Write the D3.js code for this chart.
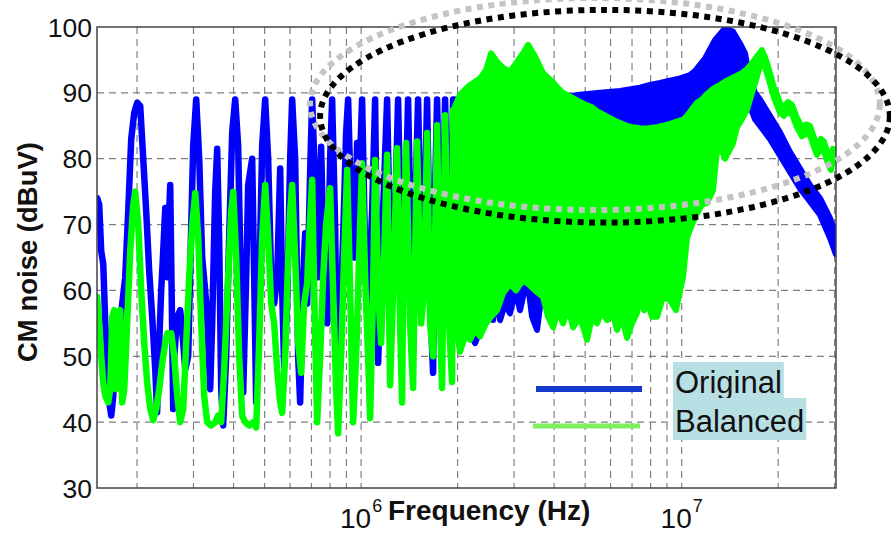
<!DOCTYPE html>
<meta charset="utf-8">
<head>
<script src="https://d3js.org/d3.v7.min.js"></script>
<style>
  body { margin: 0; background: #fff; }
  text { font-family: "Liberation Sans", Arial, sans-serif; }
</style>
</head>
<body>
<div id="container"></div>
<script>

// frequency in MHz, level in dBuV
var blueTrace = [
  [0.1502,74],[0.1524,73],[0.1546,66],[0.1569,64],[0.1592,55],[0.1614,50],[0.1638,43],[0.1662,41],
  [0.1686,44],[0.1722,50],[0.1760,54],[0.1798,58],[0.1837,62],[0.1877,72],[0.1918,83],[0.1960,87],
  [0.2002,88.5],[0.2046,88],[0.2091,80],[0.2136,72],[0.2182,63],[0.2230,56],[0.2279,48],[0.2310,41.5],
  [0.2345,52],[0.2379,60],[0.2414,66],[0.2449,72.5],[0.2484,62],[0.2520,72],[0.2538,76],[0.2593,42],
  [0.2612,50],[0.2669,56],[0.2727,57],[0.2787,52],[0.2827,48],[0.2888,50],[0.2952,70],[0.2994,82],
  [0.3059,89],[0.3126,80],[0.3193,65],[0.3263,60],[0.3310,56],[0.3382,45],[0.3431,55],[0.3506,75],
  [0.3556,81.5],[0.3607,68],[0.3660,45],[0.3713,39.5],[0.3794,50],[0.3876,68],[0.3961,84],[0.4047,89],
  [0.4135,82],[0.4226,58],[0.4287,44.5],[0.4380,62],[0.4443,76],[0.4573,80],[0.4639,62],[0.4706,43],
  [0.4808,60],[0.4913,82],[0.5020,89],[0.5129,80],[0.5241,62],[0.5355,58],[0.5471,62],[0.5591,78.5],
  [0.5672,60],[0.5753,48.5],[0.5879,58],[0.6007,80],[0.6094,89],[0.6227,80],[0.6362,50],[0.6454,43],
  [0.6595,62],[0.6690,68.7],[0.6786,58],[0.6934,78],[0.7035,89],[0.7188,76],[0.7344,62],[0.7504,81.8],
  [0.7667,62],[0.7834,55],[0.8005,80],[0.8121,89],[0.8298,70],[0.8417,45],[0.8601,55],[0.8788,68],
  [0.8979,84],[0.9109,89],[0.9308,72],[0.9510,65],[0.9717,82.4],[0.9858,76],[1.0072,89],[1.0292,66],
  [1.0515,58],[1.0823,72],[1.1058,89],[1.1298,49],[1.1628,68],[1.2053,89],[1.2404,58],[1.2674,66],
  [1.3043,89],[1.3423,58],[1.3715,70],[1.4013,89],[1.4422,58],[1.4736,72],[1.5056,89],[1.5496,60],
  [1.5834,75],[1.6062,89],[1.6529,55],[1.6769,47.5],[1.7012,75],[1.7256,89],[1.7760,60],[1.8018,72],
  [1.8279,89],[1.8809,62],[1.9082,72],[1.9359,89],[1.9780,70]
];

var greenTrace = [
  [0.1502,59],[0.1524,55],[0.1546,50],[0.1569,46],[0.1592,44],[0.1626,43],[0.1650,45],[0.1674,56],
  [0.1698,57],[0.1722,45],[0.1747,56.5],[0.1772,57],[0.1798,43],[0.1824,45],[0.1863,55],[0.1904,66],
  [0.1946,73],[0.1974,75],[0.2017,70],[0.2061,60],[0.2106,52],[0.2151,46],[0.2199,42],[0.2246,40.3],
  [0.2295,42],[0.2345,45],[0.2397,49],[0.2449,52],[0.2484,53.5],[0.2556,53.5],[0.2612,50],[0.2669,44],
  [0.2727,40],[0.2787,42],[0.2847,52],[0.2909,62],[0.2973,70],[0.3038,74.8],[0.3104,68],[0.3170,55],
  [0.3239,44],[0.3310,40],[0.3406,39.5],[0.3506,40],[0.3582,41],[0.3660,40],[0.3740,48],[0.3849,62],
  [0.3933,72],[0.3990,75],[0.4076,65],[0.4165,50],[0.4256,41],[0.4349,40],[0.4475,39.5],[0.4606,40],
  [0.4706,39.2],[0.4808,52],[0.4913,68],[0.5020,76],[0.5129,68],[0.5241,58],[0.5355,55],[0.5471,48],
  [0.5591,43],[0.5672,41.4],[0.5795,50],[0.5921,65],[0.6007,72],[0.6094,76],[0.6227,65],[0.6362,52],
  [0.6500,47.5],[0.6642,58],[0.6786,61],[0.6884,68],[0.7035,76.8],[0.7136,60],[0.7291,40],[0.7451,50],
  [0.7613,62],[0.7778,70],[0.8005,75.5],[0.8179,60],[0.8357,45],[0.8478,38.3],[0.8663,50],[0.8851,65],
  [0.9044,78.3],[0.9241,60],[0.9443,40],[0.9648,50],[0.9858,65],[1.0072,79.3],[1.0292,62],[1.0515,50],
  [1.0668,40.6],[1.0901,60],[1.1058,79.8],[1.1298,60],[1.1545,52],[1.1796,65],[1.2053,80.6],[1.2315,45.6],
  [1.2583,60],[1.2949,81.6],[1.3231,55],[1.3423,43],[1.3519,60],[1.3813,82.4],[1.4216,55],[1.4526,45.2],
  [1.4736,65],[1.4948,82.6],[1.5385,55],[1.5720,60],[1.6062,83.9],[1.6411,55],[1.6769,50],[1.7256,85.1],
  [1.7633,55],[1.7889,45.2],[1.8279,86.6],[1.8809,55],[1.9221,46.1],[1.9359,87.4],[1.9780,60]
];

// dense part of the spectrum: [MHz, lower edge, upper edge]
var blueBand = [
  [1.964,60,89],[2.110,55,89],[2.267,52,89],[2.436,56,89],[2.525,57,89],[2.581,55.5,89],[2.656,60,89],
  [2.713,55.5,89],[2.813,58,89],[2.915,56.5,89],[3.022,60,89],[3.133,57,89],[3.294,62,89],[3.414,56,89],
  [3.539,54,89],[3.669,60,89],[3.885,58,89],[4.175,60,89.3],[4.819,60,89.7],[5.564,61,90],[6.423,60,90.3],
  [7.415,62,90.8],[7.967,63,91.2],[8.561,62,91.5],[9.883,64,92.2],[10.61,75,92.7],[11.00,78,93.3],
  [11.82,82,95.2],[12.70,87,98],[13.65,89,99.8],[14.45,92,99.3],[15.20,93,97.5],[15.76,92,96],
  [16.33,88,92],[16.93,86,90],[17.55,85,89],[18.85,83,86.5],[20.26,80.5,84],[21.77,78,81],
  [23.39,75.5,78.5],[25.13,73.5,76],[27.00,71.5,74],[29.01,68,71],[30.28,65.5,68.5]
];

var greenBand = [
  [1.964,55,88],[2.036,50.7,89.7],[2.110,53,90.5],[2.187,52.5,91.2],[2.267,54,91.7],[2.350,53,92.2],
  [2.454,55,93.5],[2.544,56,96],[2.656,57,94.7],[2.773,59.6,93.8],[2.915,61,93.2],[3.044,60,94.5],
  [3.201,61.6,96],[3.318,61,97.3],[3.489,60,95.5],[3.695,59,93],[3.830,56,92.3],[3.970,54.4,91.6],
  [4.115,57,90.7],[4.266,55,90],[4.421,57.5,89.6],[4.583,54.4,89.2],[4.819,56,88.6],[5.068,52.5,88.1],
  [5.253,56,87.8],[5.445,55,87.2],[5.644,57,86.8],[5.850,55.5,86.4],[6.065,57,86],[6.286,54,85.6],
  [6.516,56,85.3],[6.754,52.8,85],[7.002,55,84.8],[7.257,56.6,84.7],[7.415,60,84.6],[7.631,57,84.6],
  [7.854,58,84.6],[8.083,56,84.7],[8.378,56,84.8],[8.747,59,85],[9.198,58.5,85.3],[9.603,57,85.6],
  [9.883,60,85.8],[10.10,62,85.9],[10.39,68,86.5],[10.77,70,87.5],[11.16,71.7,88.5],[11.57,73,89],
  [11.99,73.3,89.8],[12.52,75.2,90.6],[12.98,82.8,91],[13.65,80,91.7],[14.45,82.3,92.3],[14.88,84.8,92.6],
  [15.42,86,93],[15.98,87.4,93.6],[16.57,90,94.5],[17.17,92.4,95.5],[17.80,95.3,96.5],[18.32,93.5,95],
  [18.85,91.5,93],[19.40,89.3,90.8],[19.83,88.2,89.8],[20.26,87,88.4],[20.85,86.5,87.8],[21.45,87.2,88.6],
  [22.08,86.8,88.2],[22.89,84.8,86.2],[23.73,83.4,84.8],[24.42,83.8,85.2],[25.13,83.6,85],[25.86,81.8,83.2],
  [26.42,80.6,82],[27.19,81.5,83],[27.78,81.2,82.6],[28.59,79.3,80.7],[29.22,78.3,79.8],[29.64,80,81.5],
  [30.28,79.8,81.3]
];

var yTicks = [30, 40, 50, 60, 70, 80, 90, 100];
var xMajor = [1, 10];
var xMajorExp = ["6", "7"];
var legendNames = ["Original", "Balanced"];
// dotted ellipse: [f left, f right, dB bottom, dB top]
var ringBlack = [0.745, 44.6, 70.3, 102.6];
var ringGrey = [0.693, 41.5, 72.2, 104.4];

var width = 891, height = 536;
var mLeft = 97, mRight = 836, mTop = 27, mBottom = 488;

var svg = d3.select('#container').append('svg')
  .attr('width', width).attr('height', height);
svg.append('rect').attr('width', width).attr('height', height).attr('fill', '#fff');

var x = d3.scaleLog().domain([0.15, 30.3]).range([mLeft, mRight]);
var y = d3.scaleLinear().domain([30, 100]).range([mBottom, mTop]);

svg.append('clipPath').attr('id', 'plot')
  .append('rect').attr('x', mLeft).attr('y', mTop)
  .attr('width', mRight - mLeft).attr('height', mBottom - mTop);

// grid
var minor = [];
[0.1, 1, 10].forEach(function(dec) {
  for (var m = 1; m < 10; m++) {
    var f = dec * m;
    if (f > 0.15 && f < 30.3) minor.push(f);
  }
});
var grid = svg.append('g').attr('stroke', '#808080').attr('stroke-width', 1.2)
  .attr('stroke-dasharray', '7,5');
grid.selectAll('.gx').data(minor).enter().append('line')
  .attr('x1', d => x(d)).attr('x2', d => x(d))
  .attr('y1', mTop).attr('y2', mBottom);
grid.selectAll('.gy').data(yTicks.slice(1, -1)).enter().append('line')
  .attr('x1', mLeft).attr('x2', mRight)
  .attr('y1', d => y(d)).attr('y2', d => y(d));

var plot = svg.append('g').attr('clip-path', 'url(#plot)');

var line = d3.line().x(d => x(d[0])).y(d => y(d[1]));
var area = d3.area().x(d => x(d[0])).y0(d => y(d[1])).y1(d => y(d[2]));

function trace(pts, band, col) {
  plot.append('path').datum(band).attr('d', area)
    .attr('fill', col).attr('stroke', col).attr('stroke-width', 6)
    .attr('stroke-linejoin', 'round');
  plot.append('path').datum(pts).attr('d', line)
    .attr('fill', 'none').attr('stroke', col).attr('stroke-width', 6.5)
    .attr('stroke-linejoin', 'round').attr('stroke-linecap', 'round');
}
trace(blueTrace, blueBand, '#0000ff');
trace(greenTrace, greenBand, '#00ff00');

// axes box
svg.append('rect').attr('x', mLeft).attr('y', mTop)
  .attr('width', mRight - mLeft).attr('height', mBottom - mTop)
  .attr('fill', 'none').attr('stroke', '#444').attr('stroke-width', 1.5);

// y tick labels
svg.selectAll('.yt').data(yTicks).enter().append('text')
  .attr('x', 92).attr('y', d => y(d)).attr('dy', '0.36em')
  .attr('text-anchor', 'end').attr('font-size', 26.5).attr('fill', '#111')
  .text(d => d);

// x tick labels 10^n
xMajor.forEach(function(f, i) {
  var t = svg.append('text').attr('x', x(f)).attr('y', 528)
    .attr('text-anchor', 'middle').attr('fill', '#111');
  t.append('tspan').attr('font-size', 28).text('10');
  t.append('tspan').attr('font-size', 18).attr('dy', -16).attr('dx', 1).text(xMajorExp[i]);
});

svg.append('text').attr('x', 388).attr('y', 520)
  .attr('font-size', 28).attr('font-weight', 'bold').attr('fill', '#111')
  .text('Frequency (Hz)');

svg.append('text').attr('transform', 'translate(37,252) rotate(-90)')
  .attr('text-anchor', 'middle').attr('font-size', 27.5).attr('font-weight', 'bold')
  .attr('fill', '#111').text('CM noise (dBuV)');

// highlight ring
function ring(r, col) {
  var x0 = x(r[0]), x1 = x(r[1]), y0 = y(r[3]), y1 = y(r[2]);
  svg.append('ellipse')
    .attr('cx', (x0 + x1) / 2).attr('cy', (y0 + y1) / 2)
    .attr('rx', (x1 - x0) / 2).attr('ry', (y1 - y0) / 2)
    .attr('fill', 'none').attr('stroke', col).attr('stroke-width', 6)
    .attr('stroke-dasharray', '6,5.5');
}
ring(ringGrey, '#c4c4c4');
ring(ringBlack, '#000');

// legend
var legCols = ['#1438cc', '#7ef060'];
var legY = [389, 426];
var legBase = [393, 432];
legendNames.forEach(function(name, i) {
  svg.append('line').attr('x1', i ? 533 : 536).attr('x2', i ? 640 : 642)
    .attr('y1', legY[i]).attr('y2', legY[i])
    .attr('stroke', legCols[i]).attr('stroke-width', i ? 5 : 6);
  var bg = svg.append('rect').attr('fill', '#b8dfe4');
  var t = svg.append('text').attr('x', 675).attr('y', legBase[i])
    .attr('font-size', 31).attr('fill', '#111').text(name);
  var b = t.node().getBBox();
  bg.attr('x', b.x - 2).attr('y', i ? 398 : 362)
    .attr('width', b.width + 4).attr('height', i ? 42 : 36);
});

</script>
</body>
